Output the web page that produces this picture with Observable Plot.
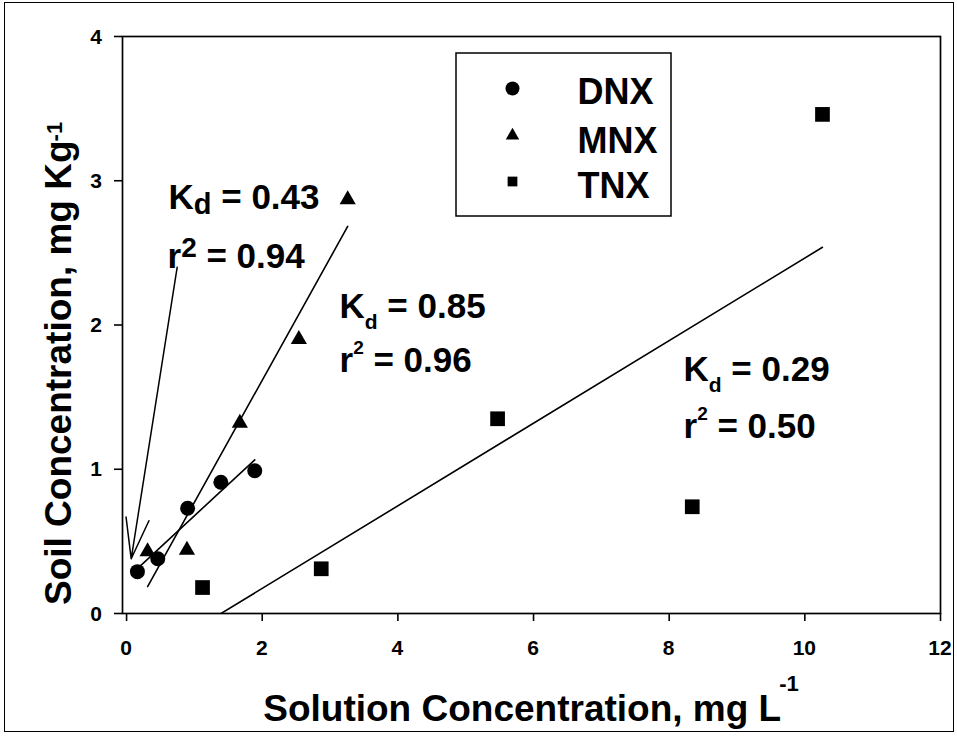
<!DOCTYPE html>
<html><head><meta charset="utf-8">
<script src="https://cdn.jsdelivr.net/npm/d3@7"></script>
<script src="https://cdn.jsdelivr.net/npm/@observablehq/plot@0.6"></script>
<style>
html,body{margin:0;padding:0;background:#fff;}
#wrap{position:relative;width:957px;height:736px;overflow:hidden;background:#fff;}
#border{position:absolute;left:4px;top:2px;width:950px;height:730px;border:1.5px solid #000;box-sizing:border-box;pointer-events:none;}
svg{display:block;}
svg text.ticklab{font:bold 21px 'Liberation Sans', Arial, sans-serif !important;}
</style></head><body>
<div id="wrap"><div id="chart"></div><div id="border"></div></div>
<script>
// ---------- data ----------
const dnxX = [0.16, 0.46, 0.90, 1.39, 1.89];
const dnxY = [0.29, 0.38, 0.73, 0.91, 0.99];
const mnxX = [0.31, 0.89, 1.67, 2.54, 3.26];
const mnxY = [0.43, 0.44, 1.32, 1.90, 2.87];
const tnxX = [1.12, 2.87, 5.47, 8.34, 10.26];
const tnxY = [0.18, 0.31, 1.35, 0.74, 3.46];
const seriesNames = ["DNX", "MNX", "TNX"];
const kdValues = ["0.43", "0.85", "0.29"];
const r2Values = ["0.94", "0.96", "0.50"];
const xTicks = [0, 2, 4, 6, 8, 10, 12];
const yTicks = [0, 1, 2, 3, 4];
const xTitle = "Solution Concentration, mg L";
const yTitle = "Soil Concentration, mg Kg";
const unitExp = "-1";

// ---------- layout (pixels) ----------
const W = 957, H = 736;
const M = {top: 36, right: 17, bottom: 123, left: 122};
const xDomain = [-0.06, 12], yDomain = [0, 4];
const FONT = "'Liberation Sans', Arial, Helvetica, sans-serif";
const xs = Plot.scale({x: {domain: xDomain, range: [M.left, W - M.right]}});
const ys = Plot.scale({y: {domain: yDomain, range: [H - M.bottom, M.top]}});
const ix = px => xs.invert(px), iy = py => ys.invert(py);

const kdPos = [[168, 208], [339, 317], [683, 380]];
const r2Pos = [[167, 267], [339, 371], [683, 437]];
const kdSub = [{size: 29, dy: 5}, {size: 21, dy: 11}, {size: 21, dy: 11}];
const r2Sup = [{size: 28, dy: -11}, {size: 19, dy: -18}, {size: 19, dy: -18}];
const arrowPx = {tail: [176.7, 266.7], tip: [130.7, 558.3]};
const legendBox = {x1: 456, y1: 53, x2: 671, y2: 216};
const legendSymX = 512, legendSymY = [88, 135, 181];
const legendTextX = 577, legendTextY = [103, 152, 197];

// ---------- tables built from the arrays ----------
const dnx = dnxX.map((x, i) => ({s: seriesNames[0], x, y: dnxY[i]}));
const mnx = mnxX.map((x, i) => ({s: seriesNames[1], x, y: mnxY[i]}));
const tnx = tnxX.map((x, i) => ({s: seriesNames[2], x, y: tnxY[i]}));
const all = [...dnx, ...mnx, ...tnx];

const annots = [];
const richMap = new Map();
kdValues.forEach((v, i) => {
  const label = "Kd = " + v;
  annots.push({label, x: ix(kdPos[i][0]), y: iy(kdPos[i][1])});
  richMap.set(label, [{t: "K"}, {t: "d", size: kdSub[i].size, dy: kdSub[i].dy}, {t: " = " + v}]);
});
r2Values.forEach((v, i) => {
  const label = "r2 = " + v;
  annots.push({label, x: ix(r2Pos[i][0]), y: iy(r2Pos[i][1])});
  richMap.set(label, [{t: "r"}, {t: "2", size: r2Sup[i].size, dy: r2Sup[i].dy}, {t: " = " + v}]);
});

const legendSymbols = ["circle", "triangle", "square"];
const legendR = [7, 5, 5.5];
const legendItems = seriesNames.map((name, i) => ({
  name, symbol: legendSymbols[i], r: legendR[i],
  sx: ix(legendSymX), sy: iy(legendSymY[i]), tx: ix(legendTextX), ty: iy(legendTextY[i])
}));

const svg = Plot.plot({
  width: W, height: H,
  marginTop: M.top, marginRight: M.right, marginBottom: M.bottom, marginLeft: M.left,
  style: {fontFamily: FONT, color: "black", background: "white", overflow: "visible"},
  x: {domain: xDomain},
  y: {domain: yDomain},
  r: {type: "identity"},
  marks: [
    Plot.frame({stroke: "black", strokeWidth: 1.7}),
    Plot.axisX({ticks: xTicks, tickFormat: () => "", tickSize: 8, strokeWidth: 1.6, label: null}),
    Plot.axisY({ticks: yTicks, tickFormat: () => "", tickSize: 8, strokeWidth: 1.6, label: null}),
    Plot.linearRegressionY(all, {x: "x", y: "y", z: "s", ci: 0, stroke: "black", strokeWidth: 1.6, clip: true}),
    Plot.dot(dnx, {x: "x", y: "y", symbol: "circle", r: 7.5, fill: "black", stroke: "none"}),
    Plot.dot(mnx, {x: "x", y: "y", symbol: "triangle", r: 6, fill: "black", stroke: "none"}),
    Plot.dot(tnx, {x: "x", y: "y", symbol: "square", r: 8.3, fill: "black", stroke: "none"}),
    Plot.arrow([arrowPx], {
      x1: d => ix(d.tail[0]), y1: d => iy(d.tail[1]),
      x2: d => ix(d.tip[0]), y2: d => iy(d.tip[1]),
      stroke: "black", strokeWidth: 1.5, headLength: 42, headAngle: 32
    }),
    Plot.text(annots, {x: "x", y: "y", text: "label", textAnchor: "start", lineAnchor: "bottom",
      fontSize: 35, fontWeight: "bold", fill: "black", fontFamily: FONT}),
    Plot.rect([legendBox], {
      x1: d => ix(d.x1), x2: d => ix(d.x2), y1: d => iy(d.y1), y2: d => iy(d.y2),
      fill: "white", stroke: "black", strokeWidth: 1.5
    }),
    Plot.dot(legendItems, {x: "sx", y: "sy", symbol: "symbol", r: "r", fill: "black", stroke: "none"}),
    Plot.text(legendItems, {x: "tx", y: "ty", text: "name", textAnchor: "start", lineAnchor: "bottom",
      fontSize: 36, fontWeight: "bold", fill: "black", fontFamily: FONT})
  ]
});
document.getElementById("chart").appendChild(svg);

// remove any leftover axis label texts
d3.select(svg).selectAll("text").filter(function () {
  return this.textContent === "";
}).remove();

const NS = "http://www.w3.org/2000/svg";
function rich(el, parts) {
  el.textContent = "";
  let cur = 0;
  for (const p of parts) {
    const ts = document.createElementNS(NS, "tspan");
    ts.textContent = p.t;
    if (p.size) ts.setAttribute("font-size", p.size);
    const target = p.dy || 0;
    if (target !== cur) ts.setAttribute("dy", target - cur);
    cur = target;
    el.appendChild(ts);
  }
}
d3.select(svg).selectAll("text").each(function () {
  const t = this.textContent;
  if (richMap.has(t)) rich(this, richMap.get(t));
});

// tick labels positioned with the plot's own scales
const sx = svg.scale("x"), sy = svg.scale("y");
const tl = d3.select(svg).append("g").attr("fill", "black");
tl.selectAll("text.xl").data(xTicks).join("text").attr("class", "ticklab xl")
  .attr("x", d => sx.apply(d)).attr("y", H - M.bottom + 27 + 15)
  .attr("text-anchor", "middle")
  .style("font-size", "21px").style("font-weight", "bold").style("font-family", FONT)
  .text(d => String(d));
tl.selectAll("text.yl").data(yTicks).join("text").attr("class", "ticklab yl")
  .attr("x", M.left - 20).attr("y", d => sy.apply(d) + 7.5)
  .attr("text-anchor", "end")
  .style("font-size", "21px").style("font-weight", "bold").style("font-family", FONT)
  .text(d => String(d));

// axis titles
const g = d3.select(svg).append("g")
  .attr("font-family", FONT).attr("font-weight", "bold").attr("fill", "black");
const xt = g.append("text").attr("x", (M.left + W - M.right) / 2).attr("y", 721)
  .attr("text-anchor", "middle").attr("font-size", 37);
xt.append("tspan").text(xTitle);
xt.append("tspan").attr("font-size", 22).attr("dx", -2).attr("dy", -30).text(unitExp);
const yt = g.append("text").attr("transform", "translate(71,605) rotate(-90)")
  .attr("text-anchor", "start").attr("font-size", 37);
yt.append("tspan").text(yTitle);
yt.append("tspan").attr("font-size", 22).attr("dx", -1).attr("dy", -9).text(unitExp);
</script>
</body></html>
